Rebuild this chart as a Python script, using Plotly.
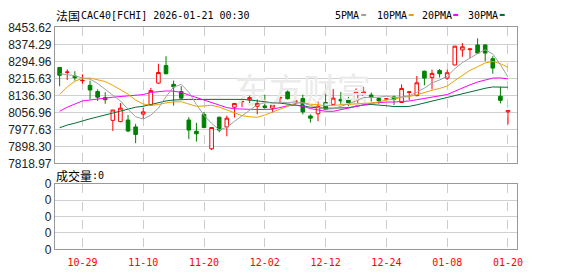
import plotly.graph_objects as go

dates = [
    "2025-10-24", "2025-10-27", "2025-10-28", "2025-10-29", "2025-10-30", "2025-10-31",
    "2025-11-03", "2025-11-04", "2025-11-05", "2025-11-06", "2025-11-07",
    "2025-11-10", "2025-11-11", "2025-11-12", "2025-11-13", "2025-11-14",
    "2025-11-17", "2025-11-18", "2025-11-19", "2025-11-20", "2025-11-21",
    "2025-11-24", "2025-11-25", "2025-11-26", "2025-11-27", "2025-11-28",
    "2025-12-01", "2025-12-02", "2025-12-03", "2025-12-04", "2025-12-05",
    "2025-12-08", "2025-12-09", "2025-12-10", "2025-12-11", "2025-12-12",
    "2025-12-15", "2025-12-16", "2025-12-17", "2025-12-18", "2025-12-19",
    "2025-12-22", "2025-12-23", "2025-12-24", "2025-12-29", "2025-12-30", "2025-12-31",
    "2026-01-02", "2026-01-05", "2026-01-06", "2026-01-07", "2026-01-08", "2026-01-09",
    "2026-01-12", "2026-01-13", "2026-01-14", "2026-01-15", "2026-01-16",
    "2026-01-19", "2026-01-20",
]

open_ = [8266.6, 8244.0, 8225.7, 8204.5, 8183.3, 8154.1, 8126.3, 8019.7, 8013.9, 8021.2,
         7989.0, 8048.9, 8091.3, 8193.6, 8275.4, 8187.7, 8154.1, 8021.2, 7968.6, 8047.5,
         7886.7, 8034.3, 7989.0, 8081.1, 8106.5, 8114.7, 8085.4, 8086.9, 8076.7, 8124.5,
         8152.6, 8100.0, 8121.9, 8040.1, 8050.4, 8102.9, 8094.2, 8117.6, 8117.6, 8094.2,
         8138.0, 8138.0, 8121.9, 8119.5, 8129.3, 8102.9, 8149.7, 8135.1, 8249.1, 8219.9,
         8252.0, 8216.9, 8278.3, 8348.4, 8349.9, 8371.8, 8371.8, 8307.5, 8132.2, 8059.2]
high = [8268.0, 8257.8, 8249.1, 8234.5, 8205.2, 8164.3, 8151.2, 8068.5, 8100.0, 8044.5,
        8003.6, 8078.2, 8171.6, 8284.1, 8319.2, 8205.2, 8178.9, 8034.3, 8008.0, 8059.2,
        7989.0, 8037.0, 8041.6, 8100.0, 8120.5, 8135.1, 8117.6, 8139.5, 8094.0, 8139.5,
        8165.8, 8114.7, 8139.5, 8047.5, 8107.3, 8158.5, 8165.8, 8152.6, 8129.3, 8168.7,
        8176.0, 8149.7, 8127.8, 8123.0, 8135.1, 8187.7, 8154.1, 8227.2, 8252.0, 8256.4,
        8259.3, 8256.4, 8367.4, 8380.5, 8355.7, 8402.5, 8374.7, 8319.2, 8176.0, 8065.0]
low = [8178.9, 8208.2, 8205.2, 8190.6, 8117.6, 8110.3, 8097.1, 7970.0, 8011.0, 7964.2,
       7913.0, 8027.0, 8089.0, 8190.6, 8234.5, 8088.4, 8117.6, 7932.0, 7920.3, 7983.0,
       7880.9, 7964.2, 7945.2, 8032.8, 8081.1, 8091.3, 8047.5, 8073.8, 8056.2, 8102.9,
       8117.6, 8094.0, 8047.5, 8009.5, 8015.3, 8069.4, 8091.3, 8091.3, 8085.4, 8084.0,
       8136.6, 8107.3, 8097.1, 8117.0, 8091.3, 8102.9, 8114.7, 8132.2, 8183.3, 8164.3,
       8219.9, 8208.2, 8276.8, 8316.3, 8310.4, 8330.9, 8295.8, 8237.4, 8098.6, 8000.7]
close = [8230.1, 8245.0, 8218.4, 8206.0, 8161.4, 8127.8, 8116.1, 8067.9, 8076.7, 7970.0,
         7953.9, 8059.2, 8158.5, 8243.2, 8237.4, 8176.0, 8123.4, 7974.4, 7956.9, 7986.1,
         7986.1, 7974.4, 8029.9, 8098.6, 8108.0, 8126.3, 8098.6, 8079.6, 8091.3, 8126.0,
         8120.5, 8111.7, 8059.2, 8029.9, 8085.4, 8070.9, 8123.4, 8110.3, 8094.2, 8151.2,
         8152.6, 8127.8, 8111.7, 8120.0, 8117.6, 8168.7, 8152.6, 8195.0, 8216.9, 8238.9,
         8237.4, 8241.8, 8366.0, 8363.0, 8352.8, 8333.8, 8333.8, 8263.7, 8113.2, 8065.0]

ma5 = [8237.4, 8234.5, 8228.6, 8216.9, 8212.2, 8191.7, 8165.9, 8135.8, 8110.0, 8071.7,
       8036.9, 8025.5, 8043.7, 8077.0, 8130.4, 8174.9, 8187.7, 8150.9, 8093.6, 8043.4,
       8005.4, 7975.6, 7986.7, 8015.0, 8039.4, 8067.4, 8092.3, 8102.2, 8100.8, 8104.4,
       8103.2, 8105.8, 8101.7, 8089.5, 8081.3, 8071.4, 8073.8, 8084.0, 8096.8, 8110.0,
       8126.3, 8127.2, 8127.5, 8132.7, 8125.9, 8129.2, 8134.1, 8150.8, 8170.2, 8194.4,
       8208.2, 8226.0, 8260.2, 8289.4, 8312.2, 8331.5, 8349.9, 8329.4, 8279.5, 8221.9]
ma10 = [8140.0, 8176.0, 8202.3, 8215.6, 8217.0, 8208.0, 8200.9, 8183.3, 8161.4, 8141.9,
        8114.3, 8095.7, 8089.8, 8093.5, 8101.1, 8105.9, 8106.6, 8097.3, 8085.3, 8086.9,
        8090.1, 8081.6, 8068.8, 8054.3, 8041.4, 8036.4, 8033.9, 8044.5, 8057.9, 8071.9,
        8085.3, 8099.1, 8102.0, 8095.1, 8092.9, 8087.3, 8089.8, 8092.9, 8093.2, 8095.7,
        8098.9, 8100.5, 8105.7, 8114.8, 8118.0, 8127.8, 8130.7, 8139.1, 8151.4, 8160.2,
        8168.7, 8180.1, 8205.5, 8229.8, 8253.3, 8269.8, 8287.9, 8294.8, 8284.4, 8267.1]
ma20 = [8062.0, 8081.1, 8095.7, 8110.3, 8114.7, 8117.6, 8123.4, 8127.8, 8130.7, 8132.2,
        8135.1, 8140.0, 8150.0, 8155.0, 8157.0, 8156.0, 8150.0, 8138.0, 8126.0, 8114.4,
        8102.2, 8088.7, 8079.3, 8073.9, 8071.2, 8071.2, 8070.3, 8070.9, 8071.6, 8079.4,
        8087.7, 8090.3, 8085.4, 8074.7, 8067.1, 8061.9, 8061.9, 8068.7, 8075.5, 8083.8,
        8092.1, 8099.8, 8103.9, 8104.9, 8105.4, 8107.5, 8110.2, 8116.0, 8122.3, 8127.9,
        8133.8, 8140.3, 8155.6, 8172.3, 8185.6, 8198.8, 8209.3, 8217.0, 8217.9, 8213.6]
ma30 = [7985.0, 7997.8, 8006.5, 8018.2, 8027.0, 8035.8, 8044.5, 8054.8, 8065.0, 8073.8,
        8081.1, 8085.4, 8094.2, 8103.0, 8110.3, 8114.7, 8117.6, 8117.6, 8117.6, 8117.6,
        8117.6, 8119.0, 8120.5, 8119.0, 8117.6, 8115.0, 8110.0, 8105.0, 8102.0, 8100.2,
        8096.6, 8092.1, 8086.8, 8081.0, 8078.4, 8076.5, 8076.8, 8078.2, 8078.8, 8084.8,
        8091.4, 8093.7, 8092.2, 8088.1, 8084.1, 8083.8, 8084.8, 8092.2, 8100.8, 8109.2,
        8117.6, 8126.5, 8137.7, 8146.6, 8154.7, 8161.6, 8169.5, 8175.6, 8176.3, 8174.3]

volume = [0] * 60

y_ticks = [7818.97, 7898.30, 7977.63, 8056.96, 8136.30, 8215.63, 8294.96, 8374.29, 8453.62]
vol_ticks = [0, 1, 2, 3, 4]
vol_tick_labels = ["0", "0", "0", "0", "0"]
x_tick_dates = ["2025-10-29", "2025-11-10", "2025-11-20", "2025-12-02",
                "2025-12-12", "2025-12-24", "2026-01-08", "2026-01-20"]
x_tick_labels = ["10-29", "11-10", "11-20", "12-02", "12-12", "12-24", "01-08", "01-20"]

ma_names = ["5PMA", "10PMA", "20PMA", "30PMA"]
ma_colors = ["#a0a0a0", "#f0a000", "#ff00ff", "#006f35"]

W, H = 578, 276
def px(x):
    return x / W
def py(y):
    return 1 - y / H

fig = go.Figure()

# faint watermark
fig.add_trace(go.Scatter(
    x=[dates[32]], y=[8140], mode="text", text=["东方财富"],
    textfont=dict(family="Noto Sans CJK SC", size=34, color="#ebebeb"),
    textposition="middle center", hoverinfo="skip", showlegend=False,
    xaxis="x", yaxis="y"))

for vals, col in zip([ma30, ma20, ma10, ma5], ma_colors[::-1]):
    fig.add_trace(go.Scatter(x=dates, y=vals, mode="lines",
                             line=dict(color=col, width=1), showlegend=False,
                             xaxis="x", yaxis="y"))

fig.add_trace(go.Candlestick(
    x=dates, open=open_, high=high, low=low, close=close,
    increasing=dict(line=dict(color="#ff0000", width=1), fillcolor="#ffffff"),
    decreasing=dict(line=dict(color="#008000", width=1), fillcolor="#008000"),
    whiskerwidth=0, showlegend=False, xaxis="x", yaxis="y"))

fig.add_trace(go.Bar(x=dates, y=volume, marker_color="#ff0000",
                     showlegend=False, xaxis="x2", yaxis="y2"))

xdom = [px(55.5), px(522)]
common_x = dict(type="category", categoryorder="array", categoryarray=dates,
                range=[-0.62, 60.13], tickvals=x_tick_dates,
                showgrid=True, gridcolor="#cccccc", griddash="dash", gridwidth=1,
                showline=True, mirror=True, linecolor="#999999", linewidth=1,
                ticks="", zeroline=False, domain=xdom, fixedrange=True)

fig.update_layout(
    width=W, height=H, margin=dict(l=0, r=0, t=0, b=0),
    paper_bgcolor="#ffffff", plot_bgcolor="#ffffff",
    boxgap=0.32,
    xaxis=dict(**common_x, anchor="y", showticklabels=False,
               rangeslider=dict(visible=False)),
    xaxis2=dict(**common_x, anchor="y2", showticklabels=True,
                ticktext=x_tick_labels, ticklabelstandoff=4,
                tickfont=dict(family="DejaVu Sans Mono", size=10, color="#ff0000")),
    yaxis=dict(range=[y_ticks[0], y_ticks[-1]], tickvals=y_ticks,
               ticktext=[f"{v:.2f}" for v in y_ticks],
               domain=[py(164.7), py(21.5)], anchor="x",
               showgrid=True, gridcolor="#d0d0d0", gridwidth=1,
               showline=True, mirror=True, linecolor="#999999", linewidth=1,
               zeroline=False, ticks="",
               tickfont=dict(family="Liberation Sans", size=12, color="#222222")),
    yaxis2=dict(range=[0, 4], tickvals=vol_ticks, ticktext=vol_tick_labels,
                domain=[py(255.3), py(186)], anchor="x2",
                showgrid=True, gridcolor="#d0d0d0", gridwidth=1,
                showline=True, mirror=True, linecolor="#999999", linewidth=1,
                zeroline=False, ticks="",
                tickfont=dict(family="Liberation Sans", size=12, color="#222222")),
    showlegend=False,
)

ann = []
def text(x, y, s, family, size, color="#000000"):
    ann.append(dict(x=px(x), y=py(y), xref="paper", yref="paper", text=s,
                    showarrow=False, xanchor="left", yanchor="middle", borderpad=0,
                    font=dict(family=family, size=size, color=color)))

text(56, 9, "法国", "Noto Sans CJK SC", 12)
text(81, 9, "CAC40[FCHI] 2026-01-21 00:30", "DejaVu Sans Mono", 10)
text(56, 177, "成交量", "Noto Sans CJK SC", 12)
text(92, 177, ":0", "DejaVu Sans Mono", 10)

legend_x = [338, 380, 425.7, 472]
mark_x = [365, 413, 458, 505]
shapes = []
for name, col, lx, mx in zip(ma_names, ma_colors, legend_x, mark_x):
    text(lx, 9, name, "DejaVu Sans Mono", 10)
    shapes.append(dict(type="rect", xref="paper", yref="paper",
                       x0=px(mx), x1=px(mx + 5), y0=py(9.5), y1=py(7.3),
                       fillcolor=col, line=dict(width=0)))

fig.update_layout(annotations=ann, shapes=shapes)

fig.write_html("out.html")
